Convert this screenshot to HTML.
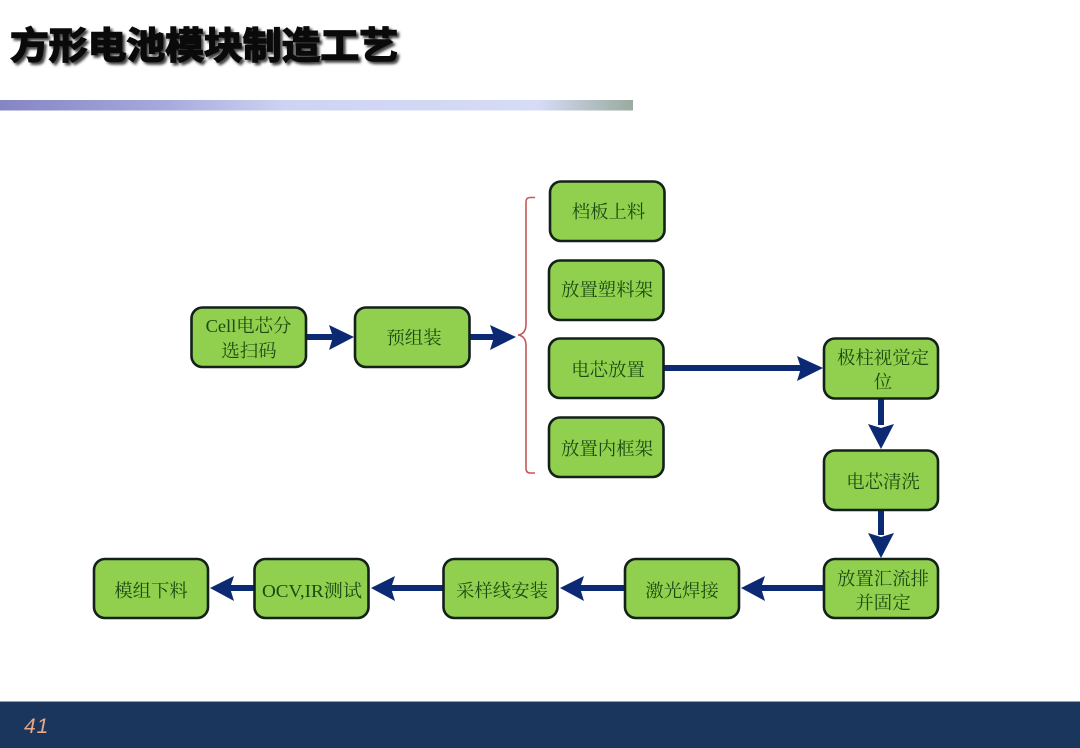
<!DOCTYPE html>
<html lang="zh">
<head>
<meta charset="utf-8">
<title>方形电池模块制造工艺</title>
<style>
html,body{margin:0;padding:0;background:#fff}
body{width:1080px;height:748px;position:relative;overflow:hidden}
svg{display:block;position:absolute;left:0;top:0}
.b{fill:#90d04e;stroke:#14201a;stroke-width:2.6}
.t{font-family:"Liberation Serif","Noto Serif CJK SC",serif;font-size:18.4px;fill:#1d4a12;text-anchor:middle}
.title{font-family:"Liberation Sans","Noto Sans CJK SC",sans-serif;font-size:37px;font-weight:700}
.ln{stroke:#0c2a74;stroke-width:6;fill:none}
.ah{fill:#0c2a74}
</style>
</head>
<body>
<svg width="1080" height="748" viewBox="0 0 1080 748" xmlns="http://www.w3.org/2000/svg">
<defs>
<linearGradient id="bar" x1="0" x2="1" y1="0" y2="0">
<stop offset="0" stop-color="#8585c4"/>
<stop offset="0.25" stop-color="#a4a8da"/>
<stop offset="0.45" stop-color="#cdd3f2"/>
<stop offset="0.85" stop-color="#d6dcf6"/>
<stop offset="0.93" stop-color="#b5c1c6"/>
<stop offset="1" stop-color="#9aab9e"/>
</linearGradient>
<filter id="sh" x="-5%" y="-20%" width="110%" height="140%"><feGaussianBlur stdDeviation="1.3"/></filter>
</defs>

<!-- Title -->
<text class="title" x="12.5" y="61" fill="#444" stroke="#444" stroke-width="1.5" filter="url(#sh)" textLength="388" lengthAdjust="spacingAndGlyphs">方形电池模块制造工艺</text>
<text class="title" x="10" y="58.500" fill="#0a0a0a" stroke="#0a0a0a" stroke-width="1.500" textLength="388" lengthAdjust="spacingAndGlyphs">方形电池模块制造工艺</text>
<rect x="0" y="100" width="633" height="10.500" fill="url(#bar)"/>

<!-- Brace -->
<path d="M535 197.500 H530 Q526 197.500 526 202 V324 Q526 334 518 335 Q526 336 526 346 V468 Q526 473 530 473 H535" fill="none" stroke="#c4585a" stroke-width="1.600"/>

<!-- Connectors -->
<path class="ln" d="M306 337H336"/><path class="ah" d="M329 325L354 337L329 350L333 337Z"/>
<path class="ln" d="M470 337H500"/><path class="ah" d="M490 325L516 337L490 350L494 337Z"/>
<path class="ln" d="M664 368H804"/><path class="ah" d="M797 356L823 368L797 381L801 368Z"/>
<path class="ln" d="M881 399V425"/><path class="ah" d="M868 424L881 449L894 424L881 428Z"/>
<path class="ln" d="M881 510V535"/><path class="ah" d="M868 533L881 558L894 533L881 537Z"/>
<path class="ln" d="M824 588H760"/><path class="ah" d="M765 576L741 588L765 601L761 588Z"/>
<path class="ln" d="M625 588H578"/><path class="ah" d="M584 576L560 588L584 601L580 588Z"/>
<path class="ln" d="M443 588H390"/><path class="ah" d="M395 576L371 588L395 601L391 588Z"/>
<path class="ln" d="M254 588H228"/><path class="ah" d="M234 576L210 588L234 601L230 588Z"/>

<!-- Nodes -->
<rect class="b" x="191.500" y="307.500" width="114.500" height="59.500" rx="11"/>
<text class="t" x="248.500" y="332">Cell电芯分</text><text class="t" x="249" y="357">选扫码</text>

<rect class="b" x="355" y="307.500" width="114.500" height="59.500" rx="11"/>
<text class="t" x="414" y="344">预组装</text>

<rect class="b" x="550" y="181.500" width="114.500" height="59.500" rx="11"/>
<text class="t" x="608.500" y="218">档板上料</text>
<rect class="b" x="549" y="260.500" width="114.500" height="59.500" rx="11"/>
<text class="t" x="607" y="296">放置塑料架</text>
<rect class="b" x="549" y="338.500" width="114.500" height="59.500" rx="11"/>
<text class="t" x="608" y="376">电芯放置</text>
<rect class="b" x="549" y="417.500" width="114.500" height="59.500" rx="11"/>
<text class="t" x="607" y="455">放置内框架</text>

<rect class="b" x="824" y="338.500" width="114" height="60" rx="11"/>
<text class="t" x="883" y="364">极柱视觉定</text><text class="t" x="883" y="388">位</text>
<rect class="b" x="824" y="450.500" width="114" height="59.500" rx="11"/>
<text class="t" x="883" y="488">电芯清洗</text>
<rect class="b" x="824" y="559" width="114" height="59" rx="11"/>
<text class="t" x="883" y="585">放置汇流排</text><text class="t" x="883" y="609">并固定</text>

<rect class="b" x="625" y="559" width="114" height="59" rx="11"/>
<text class="t" x="682" y="597">激光焊接</text>
<rect class="b" x="443.500" y="559" width="114" height="59" rx="11"/>
<text class="t" x="502" y="597">采样线安装</text>
<rect class="b" x="254.500" y="559" width="114" height="59" rx="11"/>
<text class="t" x="312" y="597" textLength="100" lengthAdjust="spacingAndGlyphs">OCV,IR测试</text>
<rect class="b" x="94" y="559" width="114" height="59" rx="11"/>
<text class="t" x="151" y="597">模组下料</text>

<!-- Footer -->
<rect x="0" y="702" width="1080" height="46" fill="#1b365d"/>
<rect x="0" y="701" width="1080" height="1" fill="#8ea0b8"/>
<text x="24" y="733" font-family="Liberation Sans, sans-serif" font-style="italic" font-size="21" letter-spacing="1" fill="#e8a884">41</text>
</svg>
</body>
</html>
